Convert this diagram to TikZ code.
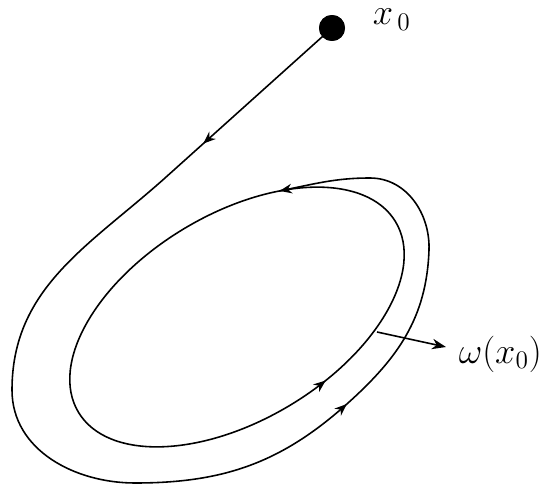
\documentclass[tikz,border=0pt]{standalone}
\usetikzlibrary{arrows.meta,decorations.markings}
\begin{document}
\begin{tikzpicture}[x=0.02cm, y=0.02cm, line width=0.9pt,
  every node/.style={font=\fontsize{22}{26}\selectfont, inner sep=0pt},
  dot/.style={circle, fill=black, minimum size=0.52cm}]
\useasboundingbox (0,0) rectangle (558,488);
% starting point and labels
\node[dot] (x0) at (332,460) {};
\node[anchor=base west] (x0lbl) at (372,463) {$x_{\,0}$};
\node[anchor=base west] (omega) at (458,125) {$\omega(x_0)$};
% limit cycle
\draw[decoration={markings,
    mark=at position 0.138 with {\arrow{Stealth[length=7pt,width=5.5pt]}},
    mark=at position 0.797 with {\arrow{Stealth[length=7pt,width=5.5pt]}}},
  postaction={decorate}, rotate around={31:(237,171)}]
  (237,171) ellipse [x radius=3.7cm, y radius=2.06cm];
% trajectory from x0 spiralling onto the cycle
\draw[decoration={markings,
    mark=at position 3.46cm with {\arrow{Stealth[length=7pt,width=5.5pt]}},
    mark=at position 18.0cm with {\arrow{Stealth[length=7pt,width=5.5pt]}}},
  postaction={decorate}]
  (x0.center) -- (165,310) to[out=221.8, in=90] (12,98)
  to[out=270, in=180] (135,5) to[out=0, in=222] (348,85)
  to[out=42, in=268] (429,238) to[out=88, in=0] (370,310)
  to[out=180, in=11] (279,297);
\node[dot] at (x0) {};
% pointer to the label
\coordinate (ptrstart) at (377,156);
\coordinate (ptrend) at (446,141);
\draw[-{Stealth[length=8pt,width=6pt]}] (ptrstart) -- (ptrend);
\end{tikzpicture}
\end{document}
